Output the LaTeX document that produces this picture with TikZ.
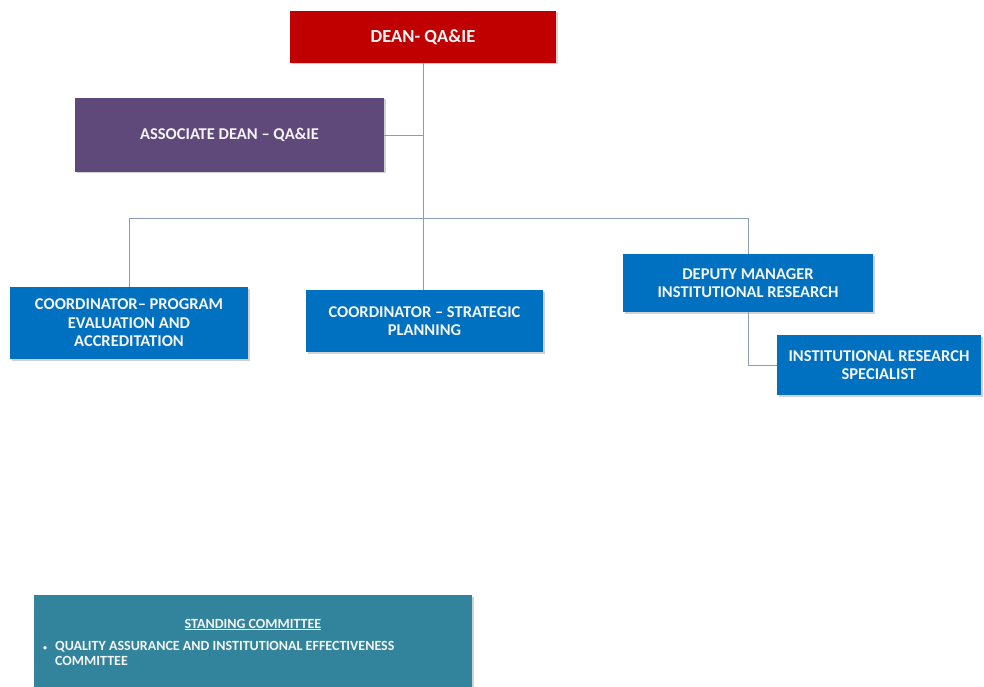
\documentclass[tikz,border=0pt]{standalone}
\usepackage{fontspec}
\setmainfont{Carlito}
\usetikzlibrary{positioning,shadows}
\definecolor{deanred}{HTML}{C00000}
\definecolor{assocpurple}{HTML}{5F497A}
\definecolor{coordblue}{HTML}{0070C0}
\definecolor{committeeteal}{HTML}{31849B}
\definecolor{linkgrey}{HTML}{8A9FB3}
\definecolor{boxtext}{HTML}{F4F4F4}
\tikzset{
  orgbox/.style={fill=#1, text=boxtext, align=center, inner sep=0pt,
    font=\bfseries\fontsize{16.5}{18.5}\selectfont,
    drop shadow={opacity=0.35, shadow xshift=1.5pt, shadow yshift=-1.5pt}},
  link/.style={draw=linkgrey, line width=0.9pt},
  committeetext/.style={text=boxtext, inner sep=0pt,
    font=\bfseries\fontsize{14}{15}\selectfont},
}

\begin{document}
\begin{tikzpicture}[x=1pt, y=-1pt]
    \clip (0,0) rectangle (984,687);
    \fill[white] (0,0) rectangle (984,687);
    \node[orgbox=deanred, minimum width=266pt, minimum height=52pt, font=\bfseries\fontsize{18.5}{20}\selectfont] (dean) at (423,37) {DEAN- QA\&IE};
    \node[orgbox=assocpurple, minimum width=309pt, minimum height=74pt] (assoc) at (229.5,135) {ASSOCIATE DEAN -- QA\&IE};
    \node[orgbox=coordblue, minimum width=238pt, minimum height=72pt] (pea) at (129,323) {COORDINATOR-- PROGRAM\\EVALUATION AND\\ACCREDITATION};
    \node[orgbox=coordblue, minimum width=237pt, minimum height=62pt] (sp) at (424.5,321) {COORDINATOR -- STRATEGIC\\PLANNING};
    \node[orgbox=coordblue, minimum width=250pt, minimum height=58pt] (dep) at (748,283) {DEPUTY MANAGER\\INSTITUTIONAL RESEARCH};
    \node[orgbox=coordblue, minimum width=204pt, minimum height=60pt] (irs) at (879,365) {INSTITUTIONAL RESEARCH\\SPECIALIST};
    \coordinate (trunk) at (423,218);
    \draw[link] (dean.south) -- (dean.south |- sp.north);
    \draw[link] (assoc.east) -- (assoc.east -| dean.south);
    \draw[link] (pea.north) -- (pea.north |- trunk) -- (dep.north |- trunk) -- (dep.north);
    \draw[link] (dep.south) |- (irs.west);
    \node[orgbox=committeeteal, minimum width=438pt, minimum height=110pt] (committee) at (253,650) {};
    \node[committeetext, below=24pt of committee.north] (ctitle) {\underline{STANDING COMMITTEE}};
    \node[committeetext, anchor=north west, align=left] (cmembers) at (43,640)
      {\begin{tabular}{@{}l@{\hspace{8pt}}l@{}}{\footnotesize\textbullet} & QUALITY ASSURANCE AND INSTITUTIONAL EFFECTIVENESS\\ & COMMITTEE\end{tabular}};
\end{tikzpicture}
\end{document}
